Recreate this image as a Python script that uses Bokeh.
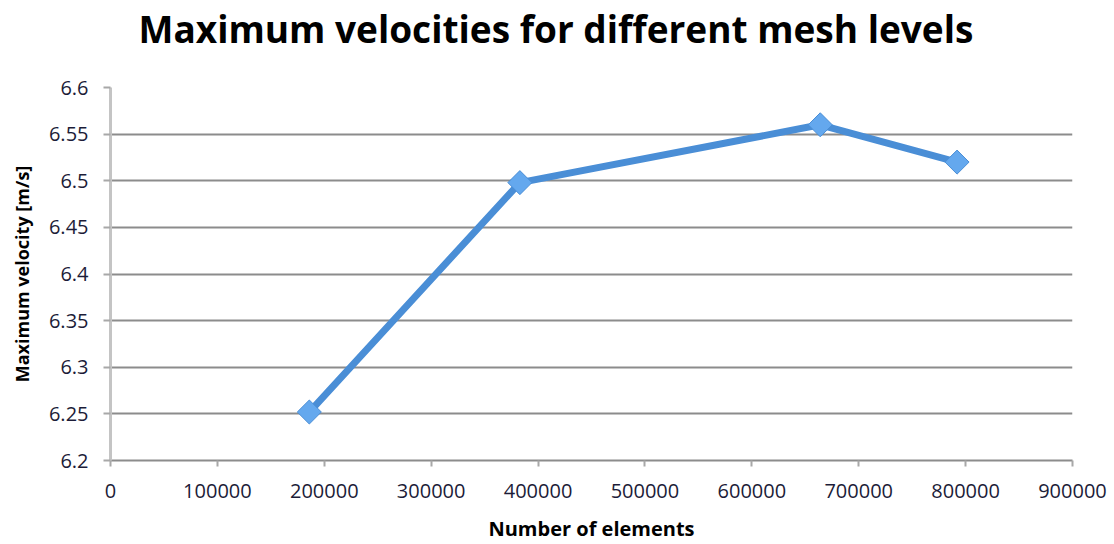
from bokeh.plotting import figure
from bokeh.models import FixedTicker, Range1d, Title
from bokeh.embed import file_html
from bokeh.resources import INLINE

elements = [186000, 383000, 664000, 792000]
velocities = [6.252, 6.498, 6.560, 6.520]
x_ticks = [0, 100000, 200000, 300000, 400000, 500000, 600000, 700000, 800000, 900000]
x_labels = ["0", "100000", "200000", "300000", "400000", "500000", "600000", "700000", "800000", "900000"]
y_ticks = [6.2, 6.25, 6.3, 6.35, 6.4, 6.45, 6.5, 6.55, 6.6]
y_labels = ["6.2", "6.25", "6.3", "6.35", "6.4", "6.45", "6.5", "6.55", "6.6"]

FONT = "Open Sans"

p = figure(width=1114, height=544, output_backend="svg", toolbar_location=None,
           x_range=Range1d(0, 900000), y_range=Range1d(6.2, 6.6),
           title="Maximum velocities for different mesh levels")
p.min_border_left = 110
p.min_border_right = 42
p.min_border_top = 87
p.min_border_bottom = 84
p.outline_line_color = None

p.title.align = "left"
p.title.offset = 28
p.title.standoff = 0
p.title.text_font = FONT
p.title.text_font_style = "bold"
p.title.text_font_size = "37px"
p.title.text_color = "#000000"

# spacer between title and plot area
p.add_layout(Title(text=" ", text_font_size="12px", standoff=18), "above")

p.xaxis.ticker = FixedTicker(ticks=x_ticks)
p.yaxis.ticker = FixedTicker(ticks=y_ticks)
p.xaxis.major_label_overrides = {t: l for t, l in zip(x_ticks, x_labels)}
p.yaxis.major_label_overrides = {t: l for t, l in zip(y_ticks, y_labels)}

for ax in (p.xaxis, p.yaxis):
    ax.axis_line_color = "#c4c4c4"
    ax.axis_line_width = 3
    ax.major_tick_line_color = "#a8a8a8"
    ax.major_tick_line_width = 2
    ax.major_tick_out = 6
    ax.major_tick_in = 0
    ax.minor_tick_line_color = None
    ax.major_label_text_font = FONT
    ax.major_label_text_font_size = "20px"
    ax.major_label_text_color = "#1c1c38"
    ax.axis_label_text_font = FONT
    ax.axis_label_text_font_style = "bold"
    ax.axis_label_text_color = "#000000"

p.yaxis.major_tick_out = 7
p.yaxis.major_label_standoff = 15
p.xaxis.major_label_standoff = 17
p.xaxis.axis_line_color = "#8c8c8c"
p.xaxis.axis_line_width = 2
p.xaxis.axis_label = "Number of elements"
p.xaxis.axis_label_text_font_size = "20px"
p.xaxis.axis_label_standoff = 14
p.yaxis.axis_label = "Maximum velocity [m/s]"
p.yaxis.axis_label_text_font_size = "18px"
p.yaxis.axis_label_standoff = 12

p.xgrid.grid_line_color = None
p.ygrid.grid_line_color = "#8c8c8c"
p.ygrid.grid_line_width = 2

p.line(elements, velocities, line_color="#4a8ed6", line_width=7)
p.scatter(elements, velocities, marker="square", size=17, angle=0.785398,
          fill_color="#64a8ee", line_color="#4a8ed6", line_width=1)

open("out.html", "w").write(file_html(p, INLINE))
